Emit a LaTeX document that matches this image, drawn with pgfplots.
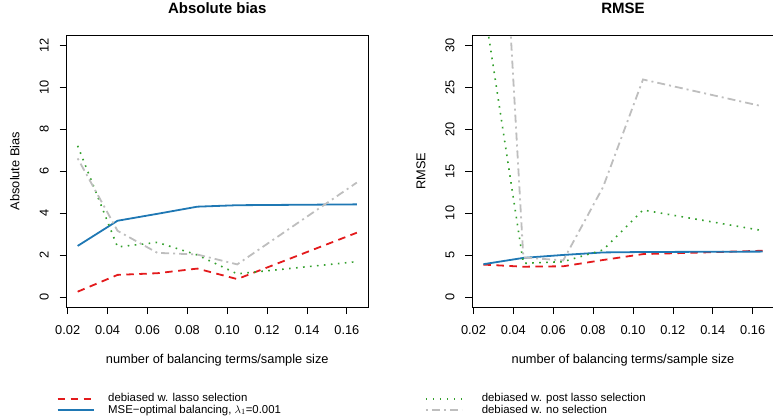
\documentclass[border=0pt]{standalone}
\usepackage{pgfplots}
\pgfplotsset{compat=1.18}
\usepackage{fontspec}
\setmainfont{Liberation Sans}
\definecolor{cred}{HTML}{E31A1C}
\definecolor{cblue}{HTML}{1F78B4}
\definecolor{cgreen}{HTML}{33A02C}
\definecolor{cgray}{HTML}{BEBEBE}
\pgfplotsset{
  myax/.style={
    scale only axis, width=301.5pt, height=272pt,
    axis line style={line width=0.8pt},
    tick align=outside, major tick length=7pt,
    tick style={line width=0.8pt, black},
    xtick pos=bottom, ytick pos=left,
    xmin=0.0194, xmax=0.1706,
    xtick={0.02,0.04,0.06,0.08,0.10,0.12,0.14,0.16},
    xticklabels={0.02,0.04,0.06,0.08,0.10,0.12,0.14,0.16},
    ticklabel style={font=\fontsize{12.8}{14}\selectfont},
    xticklabel style={anchor=base, yshift=-20pt},
    yticklabel style={rotate=90, anchor=base},
    yticklabel shift=11pt,
    label style={font=\fontsize{12.8}{14}\selectfont},
    title style={font=\fontsize{15}{17}\selectfont\bfseries, at={(axis description cs:0.5,1.0574)}, anchor=base},
    xlabel style={at={(axis description cs:0.5,-0.2085)}, anchor=base},
    ylabel style={at={(axis description cs:-0.1559,0.5)}, anchor=base},
    /pgf/number format/assume math mode=true,
    legend style={draw=none, fill=none, inner sep=0pt, outer sep=0pt,
      font=\fontsize{11.4}{12}\selectfont,
      nodes={inner sep=0pt, text height=8.3pt, text depth=2.5pt},
      row sep=0.3pt},
    legend cell align=left,
    legend image code/.code={\draw[##1, line cap=butt] (0pt,0pt) -- (36pt,0pt);},
  },
  sred/.style={cred, line width=1.8pt, dash pattern=on 7.5pt off 5.5pt, line cap=butt},
  sblue/.style={cblue, line width=1.8pt, solid},
  sgreen/.style={cgreen, line width=1.6pt, dash pattern=on 1.6pt off 5.4pt, line cap=butt},
  sgray/.style={cgray, line width=1.8pt, dash pattern=on 2pt off 4pt on 8pt off 4pt, line cap=butt},
}
\begin{document}
\begin{tikzpicture}[x=1pt,y=1pt]
\useasboundingbox (0,0) rectangle (773,415);
% left panel
\begin{axis}[myax, at={(66.5pt,108pt)}, anchor=south west,
  ymin=-0.48, ymax=12.48, ytick={0,2,4,6,8,10,12},
  title={Absolute bias}, xlabel={number of balancing terms/sample size}, ylabel={Absolute Bias},
  legend style={at={(axis description cs:-0.0325,-0.359)}, anchor=west,
    /tikz/every odd column/.append style={column sep=13.7pt}}]
\addplot[sred] coordinates {(0.025,0.25) (0.045,1.05) (0.065,1.13) (0.085,1.35) (0.105,0.85) (0.165,3.06)};
\addlegendentry{debiased w. lasso selection}
\addplot[sblue] coordinates {(0.025,2.43) (0.045,3.63) (0.065,3.96) (0.085,4.30) (0.105,4.37) (0.165,4.41)};
\addlegendentry{MSE\textminus optimal balancing, $\lambda_1$=0.001}
\addplot[sgreen, forget plot] coordinates {(0.025,7.2) (0.045,2.38) (0.065,2.6) (0.085,2.0) (0.105,1.1) (0.165,1.68)};
\addplot[sgray, forget plot] coordinates {(0.025,6.6) (0.045,3.15) (0.065,2.1) (0.085,2.02) (0.105,1.55) (0.165,5.45)};
\end{axis}
% right panel
\begin{axis}[myax, at={(472.3pt,108pt)}, anchor=south west,
  ymin=-1.2, ymax=31.2, ytick={0,5,10,15,20,25,30},
  title={RMSE}, xlabel={number of balancing terms/sample size}, ylabel={RMSE},
  legend style={at={(axis description cs:-0.157,-0.359)}, anchor=west,
    /tikz/every odd column/.append style={column sep=19pt}}]
\addplot[sred, forget plot] coordinates {(0.025,3.85) (0.045,3.6) (0.065,3.65) (0.085,4.4) (0.105,5.1) (0.165,5.5)};
\addplot[sblue, forget plot] coordinates {(0.025,3.9) (0.045,4.65) (0.065,5.0) (0.085,5.3) (0.105,5.35) (0.165,5.4)};
\addplot[sgreen] coordinates {(0.025,35.1) (0.045,4.0) (0.065,4.2) (0.085,5.6) (0.105,10.35) (0.165,7.9)};
\addlegendentry{debiased w. post lasso selection}
\addplot[sgray] coordinates {(0.025,88.8) (0.045,4.7) (0.065,4.35) (0.085,13.1) (0.105,25.9) (0.165,22.7)};
\addlegendentry{debiased w. no selection}
\end{axis}
\end{tikzpicture}
\end{document}
